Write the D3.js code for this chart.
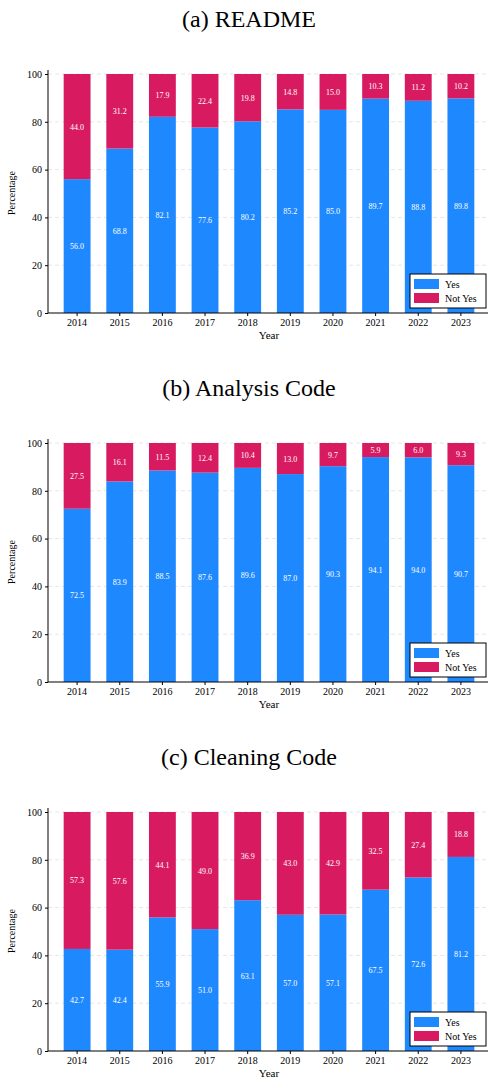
<!DOCTYPE html><html><head><meta charset="utf-8">
<script src="https://cdn.jsdelivr.net/npm/d3@7"></script>
<style>body{margin:0;background:#fff}text{font-family:"Liberation Serif","DejaVu Serif",serif}</style></head><body>
<svg id="c" width="498" height="1085"></svg>
<script>
const years=["2014","2015","2016","2017","2018","2019","2020","2021","2022","2023"];
const titles=["(a) README","(b) Analysis Code","(c) Cleaning Code"];
const readmeYes=[56.0,68.8,82.1,77.6,80.2,85.2,85.0,89.7,88.8,89.8];
const analysisYes=[72.5,83.9,88.5,87.6,89.6,87.0,90.3,94.1,94.0,90.7];
const cleaningYes=[42.7,42.4,55.9,51.0,63.1,57.0,57.1,67.5,72.6,81.2];
const readmeNo=[44.0,31.2,17.9,22.4,19.8,14.8,15.0,10.3,11.2,10.2];
const analysisNo=[27.5,16.1,11.5,12.4,10.4,13.0,9.7,5.9,6.0,9.3];
const cleaningNo=[57.3,57.6,44.1,49.0,36.9,43.0,42.9,32.5,27.4,18.8];
const yTicks=[0,20,40,60,80,100];
const panels=[[readmeYes,readmeNo],[analysisYes,analysisNo],[cleaningYes,cleaningNo]];
const svg=d3.select("#c");
const blue="#1e88ff",red="#d81b60";
const x=d3.scaleBand().domain(years).range([56,482]).paddingInner(0.37).paddingOuter(0.18);
panels.forEach((p,i)=>{
  const off=i*369;
  const y=d3.scaleLinear().domain([0,100]).range([313+off,74+off]);
  const g=svg.append("g");
  g.append("text").attr("x",249).attr("y",27+off).attr("text-anchor","middle").attr("font-size",24).attr("font-family","DejaVu Serif").text(titles[i]);
  yTicks.slice(1).forEach(t=>g.append("line").attr("x1",48).attr("x2",488).attr("y1",y(t)).attr("y2",y(t)).attr("stroke","#e6e6e6").attr("stroke-dasharray","4,3"));
  years.forEach((yr,j)=>{
    const yes=p[0][j],no=p[1][j];
    g.append("rect").attr("x",x(yr)).attr("width",x.bandwidth()).attr("y",y(yes)).attr("height",y(0)-y(yes)).attr("fill",blue);
    g.append("rect").attr("x",x(yr)).attr("width",x.bandwidth()).attr("y",y(100)).attr("height",y(yes)-y(100)).attr("fill",red);
    const cx=x(yr)+x.bandwidth()/2;
    g.append("text").attr("x",cx).attr("y",y(yes/2)+3).attr("text-anchor","middle").attr("font-size",8).attr("fill","#fff").text(yes.toFixed(1));
    g.append("text").attr("x",cx).attr("y",y(yes+no/2)+3).attr("text-anchor","middle").attr("font-size",8).attr("fill","#fff").text(no.toFixed(1));
  });
  const ya=g.append("g").attr("transform",`translate(48,0)`).call(d3.axisLeft(y).tickValues(yTicks).tickSize(3));
  const xa=g.append("g").attr("transform",`translate(0,${313+off})`).call(d3.axisBottom(x).tickSize(3));
  [ya,xa].forEach(a=>{a.selectAll("text").attr("font-size",10).attr("fill","#000").attr("font-family","Liberation Serif");a.select(".domain").attr("stroke","#000");});
  xa.select(".domain").attr("d","M48,0H488");
  ya.select(".domain").attr("d","M0,"+(y(0))+"V"+(y(100)-4));
  g.append("text").attr("x",269).attr("y",339+off).attr("text-anchor","middle").attr("font-size",11).text("Year");
  g.append("text").attr("transform",`translate(15,${193+off}) rotate(-90)`).attr("text-anchor","middle").attr("font-size",10).text("Percentage");
  const lg=g.append("g").attr("transform",`translate(410,${274+off})`);
  lg.append("rect").attr("width",76).attr("height",34).attr("fill","#fff").attr("stroke","#000");
  [["Yes",blue],["Not Yes",red]].forEach((d,k)=>{
    lg.append("rect").attr("x",4).attr("y",5+k*14).attr("width",25).attr("height",10).attr("fill",d[1]);
    lg.append("text").attr("x",35).attr("y",14+k*14).attr("font-size",10).text(d[0]);
  });
});
</script></body></html>
